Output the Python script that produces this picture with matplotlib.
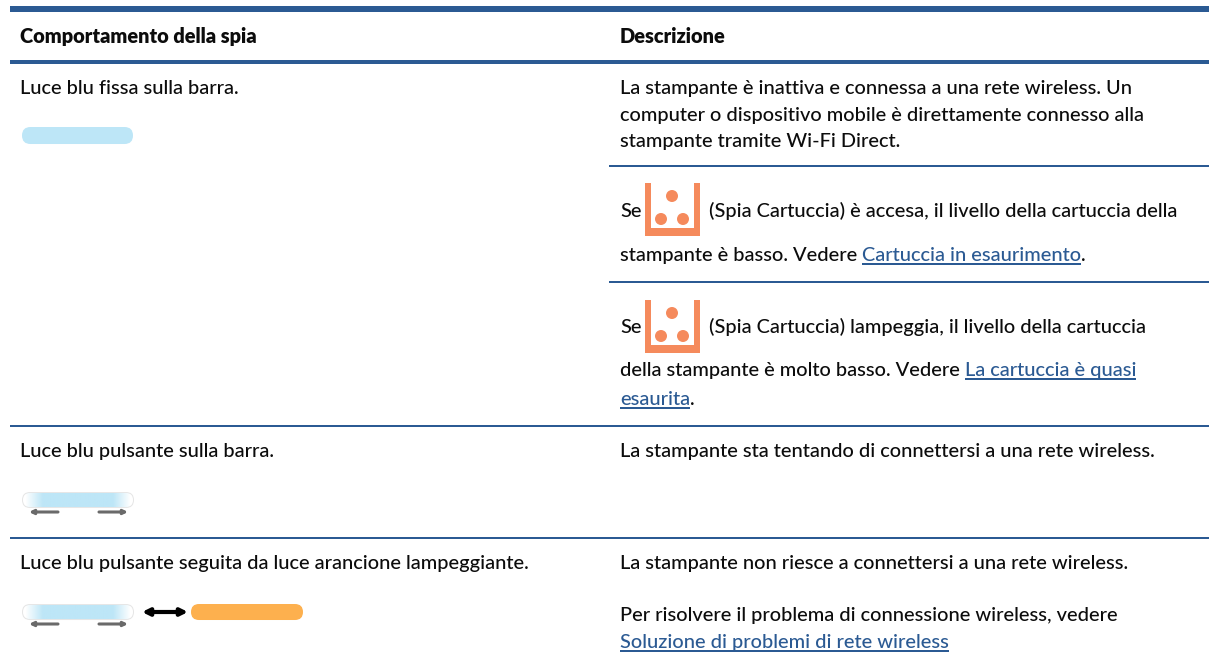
import numpy as np
import matplotlib
matplotlib.use("Agg")
import matplotlib.pyplot as plt
from matplotlib.patches import FancyBboxPatch, Circle, FancyArrowPatch, Rectangle

intestazioni = ["Comportamento della spia", "Descrizione"]

comportamenti = [
    "Luce blu fissa sulla barra.",
    "Luce blu pulsante sulla barra.",
    "Luce blu pulsante seguita da luce arancione lampeggiante.",
]

descr_fissa = [
    "La stampante è inattiva e connessa a una rete wireless. Un",
    "computer o dispositivo mobile è direttamente connesso alla",
    "stampante tramite Wi-Fi Direct.",
]
spia_accesa = ["Se", "(Spia Cartuccia) è accesa, il livello della cartuccia della", "stampante è basso. Vedere ", "Cartuccia in esaurimento", "."]
spia_lamp = ["Se", "(Spia Cartuccia) lampeggia, il livello della cartuccia", "della stampante è molto basso. Vedere ", "La cartuccia è quasi", "esaurita", "."]
descr_tenta = "La stampante sta tentando di connettersi a una rete wireless."
descr_non = "La stampante non riesce a connettersi a una rete wireless."
descr_risolvi = "Per risolvere il problema di connessione wireless, vedere"
link_risolvi = "Soluzione di problemi di rete wireless"

BLU = "#2b5a93"
AZZURRO = "#bde6f7"
ARANCIO = "#fdb04e"
CORALLO = "#f58a5c"
FS = 14.4

plt.rcParams["font.family"] = ["Lato", "DejaVu Sans"]

fig = plt.figure(figsize=(12.15, 6.61), dpi=100)
ax = fig.add_axes([0, 0, 1, 1])
ax.set_xlim(0, 1215)
ax.set_ylim(661, 0)
ax.axis("off")


def riga(y0, h, x0=10, x1=1209):
    ax.add_patch(Rectangle((x0, y0), x1 - x0, h, color=BLU, lw=0))


def testo(x, y, s, **kw):
    kw.setdefault("fontsize", FS)
    kw.setdefault("color", "#0c0c0c")
    kw.setdefault("fontweight", "medium")
    return ax.text(x, y, s, va="baseline", ha="left", **kw)


def larg(s):
    t = testo(0, 0, s)
    w = t.get_window_extent(fig.canvas.get_renderer()).width
    t.remove()
    return w


def link(x, y, s):
    testo(x, y, s, color=BLU)
    w = larg(s)
    ax.add_patch(Rectangle((x, y + 2), w, 1.6, color=BLU, lw=0))
    return x + w


def barra(x, y, w, h, c):
    ax.add_patch(FancyBboxPatch((x + h / 2, y + h / 2), w - h, 0.01,
                                boxstyle="round,pad=%f" % (h / 2), fc=c, lw=0))


def barra_pulsante(x, y):
    w, h = 112, 16
    barra(x, y, w, h, "#e6e6e6")
    barra(x + 1, y + 1, w - 2, h - 2, "white")
    alfa = np.interp(np.linspace(0, 6, 120), np.arange(7), [0, 1, 1, 1, 1, 1, 0])
    rgba = np.zeros((1, 120, 4))
    rgba[..., :3] = matplotlib.colors.to_rgb(AZZURRO)
    rgba[..., 3] = alfa
    ax.imshow(rgba, extent=(x + 3, x + w - 3, y + h - 1, y + 1), aspect="auto", zorder=3)
    for a, b in [(x + 36, x + 7), (x + 77, x + 106)]:
        ax.add_patch(FancyArrowPatch((a, y + 20), (b, y + 20), arrowstyle="-|>", mutation_scale=6,
                                     color="#6a6a6a", lw=2.2, shrinkA=0, shrinkB=0))


def icona(x, y):
    w, h = 55, 53
    for rx, ry, rw, rh in [(x, y, 6, h), (x + w - 6, y, 6, h), (x, y + h - 8, w, 8)]:
        ax.add_patch(Rectangle((rx, ry), rw, rh, color=CORALLO, lw=0))
    for cx, cy in [(27, 13), (16, 36), (38, 36)]:
        ax.add_patch(Circle((x + cx, y + cy), 6, color=CORALLO, lw=0))


riga(6, 6)
riga(60, 4)
riga(164.5, 2, x0=609)
riga(281, 2, x0=609)
riga(425, 2)
riga(537, 2)

testo(20, 43, intestazioni[0], fontweight="heavy")
testo(620, 43, intestazioni[1], fontweight="heavy")

testo(20, 94, comportamenti[0])
barra(22, 127, 111, 17, AZZURRO)

for y, s in zip([94, 121, 147], descr_fissa):
    testo(620, y, s)

testo(620, 217, spia_accesa[0])
icona(645, 183)
testo(709, 217, spia_accesa[1])
testo(620, 261, spia_accesa[2])
x = link(620 + larg(spia_accesa[2]), 261, spia_accesa[3])
testo(x, 261, spia_accesa[4])

testo(620, 333, spia_lamp[0])
icona(645, 300)
testo(709, 333, spia_lamp[1])
testo(620, 376, spia_lamp[2])
link(620 + larg(spia_lamp[2]), 376, spia_lamp[3])
x = link(620, 405, spia_lamp[4])
testo(x, 405, spia_lamp[5])

testo(20, 457, comportamenti[1])
barra_pulsante(22, 492)
testo(620, 457, descr_tenta)

testo(20, 569, comportamenti[2])
barra_pulsante(22, 604)
ax.add_patch(FancyArrowPatch((142, 612), (188, 612), arrowstyle="<|-|>", mutation_scale=10,
                             color="black", lw=3, shrinkA=0, shrinkB=0))
barra(191, 604, 112, 16, ARANCIO)
testo(620, 569, descr_non)
testo(620, 621, descr_risolvi)
link(620, 648, link_risolvi)
ax.set_xlim(0, 1215)
ax.set_ylim(661, 0)

fig.savefig("out.png", dpi=100)
